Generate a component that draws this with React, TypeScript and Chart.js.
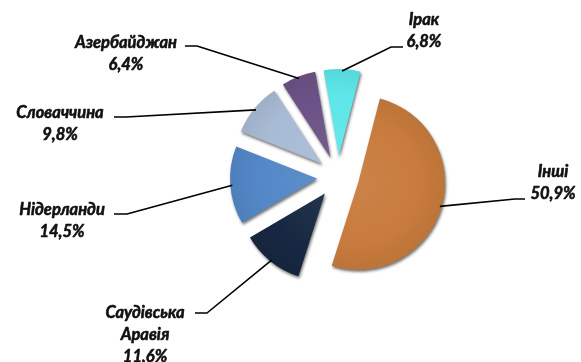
import React, { useEffect, useRef } from "react";
import { Chart, registerables } from "chart.js";

Chart.register(...registerables);

// ---- data ----
const categories = ["Ірак", "Інші", "Саудівська Аравія", "Нідерланди", "Словаччина", "Азербайджан"];
const shares = [6.8, 50.9, 11.6, 14.5, 9.8, 6.4];
const valueLabels = ["6,8%", "50,9%", "11,6%", "14,5%", "9,8%", "6,4%"];
const nameLines = [["Ірак"], ["Інші"], ["Саудівська", "Аравія"], ["Нідерланди"], ["Словаччина"], ["Азербайджан"]];

// ---- styles ----
const colors = ["#5DE6E9", "#C87B3C", "#172741", "#5387C7", "#A8BBD4", "#6B5286"];
const PIE_RADIUS = 87;
const EXPLODE = 21;
const LINE_HEIGHT = 22;
const FONT = "italic bold 16.5px Lato, 'DejaVu Sans', sans-serif";

// label layout relative to pie centre: text centre x, first line y, horizontal leader segment
const labelLayout = [
  { cx: 86, y: -157, end: [65, -130], elbow: [53, -130] },
  { cx: 215, y: -5, end: [187, 22], elbow: [177, 22] },
  { cx: -193, y: 136, end: [-143, 136], elbow: [-131, 136] },
  { cx: -276, y: 33, end: [-224, 37], elbow: [-211, 37] },
  { cx: -278, y: -64, end: [-224, -60], elbow: [-212, -60] },
  { cx: -212, y: -134, end: [-153, -131], elbow: [-141, -131] },
];

function shade(hex: string, amt: number): string {
  const n = parseInt(hex.slice(1), 16);
  let r = (n >> 16) & 255, g = (n >> 8) & 255, b = n & 255;
  const f = (c: number) => Math.max(0, Math.min(255, Math.round(amt >= 0 ? c + (255 - c) * amt : c * (1 + amt))));
  r = f(r); g = f(g); b = f(b);
  return `rgb(${r},${g},${b})`;
}

const explodePlugin = {
  id: "explodeLabels",
  beforeDatasetDraw(chart: any, args: any) {
    const meta = chart.getDatasetMeta(args.index);
    const ctx = chart.ctx;
    meta.data.forEach((arc: any) => {
      const mid = (arc.startAngle + arc.endAngle) / 2;
      ctx.save();
      ctx.translate(Math.cos(mid) * EXPLODE, Math.sin(mid) * EXPLODE);
      ctx.shadowColor = "rgba(0,0,0,0.55)";
      ctx.shadowOffsetX = 1;
      ctx.shadowOffsetY = 2;
      ctx.shadowBlur = 3;
      arc.draw(ctx);
      ctx.restore();
    });
    return false;
  },
  afterDatasetsDraw(chart: any) {
    const meta = chart.getDatasetMeta(0);
    const ctx = chart.ctx;
    ctx.save();
    meta.data.forEach((arc: any, i: number) => {
      const L = labelLayout[i];
      const cx = arc.x, cy = arc.y;
      const mid = (arc.startAngle + arc.endAngle) / 2;
      const r = arc.outerRadius + EXPLODE - 2;
      const ax = cx + Math.cos(mid) * r;
      const ay = cy + Math.sin(mid) * r;
      ctx.strokeStyle = "#000";
      ctx.lineWidth = 1.6;
      ctx.beginPath();
      ctx.moveTo(cx + L.end[0], cy + L.end[1]);
      ctx.lineTo(cx + L.elbow[0], cy + L.elbow[1]);
      ctx.lineTo(ax, ay);
      ctx.stroke();
      const lines = [...nameLines[i], valueLabels[i]];
      ctx.font = FONT;
      ctx.fillStyle = "#111";
      ctx.strokeStyle = "#111";
      ctx.lineWidth = 0.6;
      ctx.lineJoin = "round";
      ctx.textAlign = "center";
      ctx.textBaseline = "middle";
      lines.forEach((t, k) => {
        const tx = cx + L.cx, ty = cy + L.y + k * LINE_HEIGHT;
        ctx.fillText(t, tx, ty);
        ctx.strokeText(t, tx, ty);
      });
    });
    ctx.restore();
  },
};

export default function App() {
  const ref = useRef<HTMLCanvasElement>(null);
  useEffect(() => {
    if (!ref.current) return;
    const chart = new Chart(ref.current, {
      type: "pie",
      data: {
        labels: categories,
        datasets: [
          {
            data: shares,
            borderWidth: 0,
            backgroundColor: (c: any) => {
              const base = colors[c.dataIndex % colors.length];
              const area = c.chart.chartArea;
              if (!area) return base;
              const x = (area.left + area.right) / 2;
              const y = (area.top + area.bottom) / 2;
              const g = c.chart.ctx.createRadialGradient(x, y, 0, x, y, PIE_RADIUS);
              g.addColorStop(0, shade(base, 0.06));
              g.addColorStop(0.7, base);
              g.addColorStop(1, shade(base, -0.06));
              return g;
            },
          },
        ],
      },
      options: {
        animation: false,
        responsive: false,
        radius: PIE_RADIUS,
        rotation: -10,
        layout: { padding: { left: 200, right: 105, top: 20, bottom: 28 } },
        plugins: { legend: { display: false }, tooltip: { enabled: false } },
      } as any,
      plugins: [explodePlugin],
    });
    return () => chart.destroy();
  }, []);
  return (
    <canvas
      ref={ref}
      width={581}
      height={362}
      style={{ position: "absolute", left: 0, top: 0, display: "block", background: "#fff" }}
    />
  );
}
